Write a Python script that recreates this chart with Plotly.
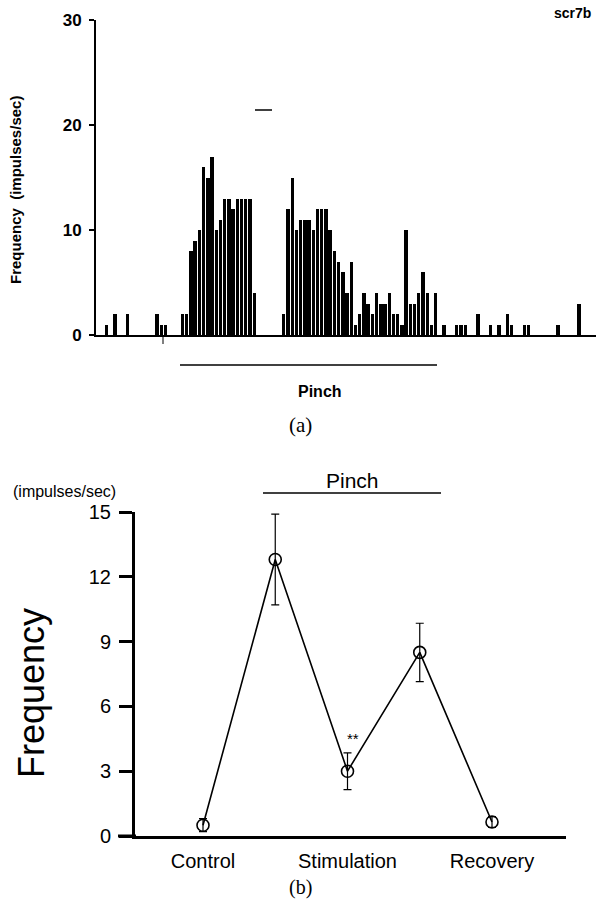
import plotly.graph_objects as go

W, H = 596, 911

# ---------- (a) histogram data ----------
bin_index = [2, 4, 7, 14, 15, 16,
             20, 21, 22, 23, 24, 25, 26, 27, 28, 29, 30, 31, 32, 33, 34, 35, 36, 37,
             44, 45, 46, 47, 48, 49, 50, 51, 52, 53, 54, 55, 56, 57, 58, 59, 60, 61, 62,
             63, 64, 65, 66, 67, 68, 69, 70, 71, 72, 73, 74, 75, 76, 77, 78, 79, 80,
             82, 85, 86, 87, 90, 93, 95, 97, 98, 101, 102, 109, 114]
bin_rate = [1, 2, 2, 2, 1, 1,
            2, 2, 8, 9, 10, 16, 15, 17, 10, 11, 13, 13, 12, 13, 13, 13, 13, 4,
            2, 12, 15, 10, 11, 11, 11, 10, 12, 12, 12, 10, 8, 7, 6, 4, 7, 1, 2,
            4, 3, 2, 4, 3, 3, 4, 2, 2, 1, 10, 3, 3, 4, 6, 4, 1, 4,
            1, 1, 1, 1, 2, 1, 1, 2, 1, 1, 1, 1, 3]
hist_yticks = [0, 10, 20, 30]

# ---------- (b) summary data ----------
phase_pos = [0, 1, 2, 3, 4]
phase_mean = [0.5, 12.8, 3.0, 8.5, 0.65]
phase_err = [0.3, 2.1, 0.85, 1.35, 0.25]
cat_pos = [0, 2, 4]
cat_labels = ["Control", "Stimulation", "Recovery"]
summary_yticks = [0, 3, 6, 9, 12, 15]


def px(x):
    return x / W


def py(y):
    return 1 - y / H


fig = go.Figure()

fig.add_trace(go.Bar(
    x=[b + 0.5 for b in bin_index], y=bin_rate, width=0.8,
    marker=dict(color="black", line=dict(width=0)),
    xaxis="x", yaxis="y", showlegend=False))

fig.add_trace(go.Scatter(
    x=phase_pos, y=phase_mean, mode="lines+markers",
    line=dict(color="black", width=1.6),
    marker=dict(symbol="circle-open", size=12, color="black", line=dict(width=1.6)),
    error_y=dict(type="data", array=phase_err, visible=True, color="black",
                 thickness=1.2, width=4),
    xaxis="x2", yaxis="y2", showlegend=False))

sans = "Liberation Sans, Arial, sans-serif"
serif = "Liberation Serif, Times New Roman, serif"

fig.update_layout(
    template="none",
    width=W, height=H, margin=dict(l=0, r=0, t=0, b=0, pad=0, autoexpand=False),
    paper_bgcolor="white", plot_bgcolor="white",
    bargap=0, hovermode=False,
    xaxis=dict(domain=[px(96), px(596)], range=[0, 118.5], showgrid=False,
               zeroline=False, showticklabels=False, ticks="", automargin=False,
               showline=True, linecolor="black", linewidth=2),
    yaxis=dict(domain=[py(335), py(20)], range=[0, 30], showgrid=False,
               zeroline=False, tickvals=hist_yticks, ticks="outside", automargin=False,
               ticklen=5, tickwidth=1.5, tickcolor="black", ticklabelstandoff=4,
               showline=True, linecolor="black", linewidth=2,
               tickfont=dict(family=sans, size=17, color="black", weight="bold")),
    xaxis2=dict(domain=[px(135), px(566)], range=[-(203 - 135) / 72.25, (566 - 203) / 72.25],
                showgrid=False, zeroline=False, tickvals=cat_pos, ticktext=cat_labels,
                ticks="", showline=True, linecolor="black", linewidth=3, automargin=False,
                ticklabelstandoff=5,
                tickfont=dict(family=sans, size=20, color="black"), anchor="y2"),
    yaxis2=dict(domain=[py(836), py(512)], range=[0, 15], showgrid=False,
                zeroline=False, tickvals=summary_yticks, ticks="outside", automargin=False,
                ticklen=13, tickwidth=3, tickcolor="black", ticklabelstandoff=4,
                showline=True, linecolor="black", linewidth=3,
                tickfont=dict(family=sans, size=20, color="black"), anchor="x2"),
)

shapes = [
    # pinch bar (a)
    dict(type="line", xref="paper", yref="paper", x0=px(180), x1=px(437),
         y0=py(365), y1=py(365), line=dict(color="black", width=1.5)),
    # scale marker (a)
    dict(type="line", xref="paper", yref="paper", x0=px(255), x1=px(272),
         y0=py(110), y1=py(110), line=dict(color="black", width=1.5)),
    # stimulus tick under baseline (a)
    dict(type="line", xref="paper", yref="paper", x0=px(163), x1=px(163),
         y0=py(335), y1=py(344), line=dict(color="black", width=1)),
    # pinch bar (b)
    dict(type="line", xref="paper", yref="paper", x0=px(263), x1=px(441),
         y0=py(493), y1=py(493), line=dict(color="black", width=1.5)),
    # x-axis extension left of y axis (b)
    dict(type="line", xref="paper", yref="paper", x0=px(118), x1=px(136),
         y0=py(836), y1=py(836), line=dict(color="black", width=3)),
]
fig.update_layout(shapes=shapes)

ann = [
    dict(text="<b>scr7b</b>", x=px(572), y=py(13), font=dict(family=sans, size=14)),
    dict(text="<b>Frequency  (impulses/sec)</b>", x=px(15), y=py(190), textangle=-90,
         font=dict(family=sans, size=15)),
    dict(text="<b>Pinch</b>", x=px(320), y=py(391), font=dict(family=sans, size=16)),
    dict(text="(a)", x=px(300), y=py(425), font=dict(family=serif, size=21)),
    dict(text="(impulses/sec)", x=px(64), y=py(491), font=dict(family=sans, size=16)),
    dict(text="Pinch", x=px(352), y=py(480), font=dict(family=sans, size=21)),
    dict(text="Frequency", x=px(31), y=py(693), textangle=-90,
         font=dict(family=sans, size=36)),
    dict(text="**", x=2.07, y=4.5, xref="x2", yref="y2", font=dict(family=sans, size=15)),
    dict(text="(b)", x=px(300), y=py(887), font=dict(family=serif, size=20)),
]
for a in ann:
    a.setdefault("xref", "paper")
    a.setdefault("yref", "paper")
    a.update(showarrow=False, xanchor="center", yanchor="middle")
    a["font"].setdefault("color", "black")
fig.update_layout(annotations=ann)

fig.write_html("out.html", config={"displayModeBar": False, "staticPlot": True},
               post_script="document.body.style.margin='0';")
